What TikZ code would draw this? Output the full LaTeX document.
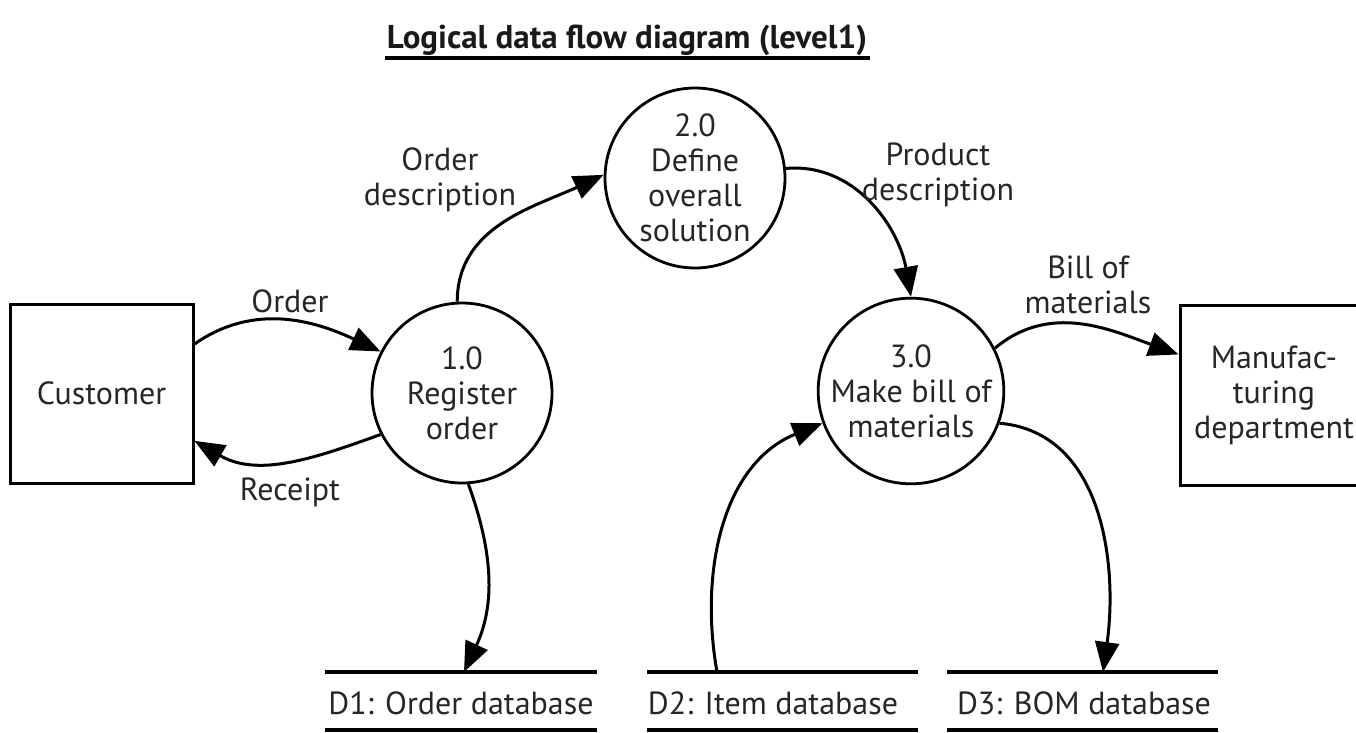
\documentclass[tikz,border=0pt]{standalone}
\usepackage{fontspec}
\setmainfont{PT Sans}
\usetikzlibrary{arrows.meta}
\begin{document}
\begin{tikzpicture}[x=0.5pt,y=-0.5pt,
  txt/.style={font=\fontsize{16}{17.5}\selectfont, text=black!85, align=center},
  proc/.style={circle, draw, line width=1.4pt, minimum size=90pt, inner sep=0pt, txt},
  ext/.style={rectangle, draw, line width=1.5pt, inner sep=0pt, txt},
  flow/.style={line width=1.5pt, -{Triangle[length=15pt,width=12pt]}},
  store/.style={line width=1.7pt},
  lbl/.style={txt, inner sep=0pt}]
\useasboundingbox (0,0) rectangle (1356,733);

% title
\node[font=\bfseries\fontsize{16.5}{19}\selectfont, text=black!90] (title) at (627,40) {Logical data flow diagram (level1)};
\draw[line width=1.6pt] (385,58) -- (870,58);

% external entities
\node[ext, minimum width=91.5pt, minimum height=89.5pt] (cust) at (101.5,393.5) {Customer};
\node[ext, minimum width=94pt, minimum height=90pt] (mfg) at (1274,395) {Manufac-\\turing\\department};

% processes
\node[proc] (p1) at (462,393) {1.0\\Register\\order};
\node[proc] (p2) at (695,178) {2.0\\Define\\overall\\solution};
\node[proc] (p3) at (911,391) {3.0\\Make bill of\\materials};

% data stores
\draw[store] (325,672) -- (597,672);
\draw[store] (325,730) -- (597,730);
\draw[store] (647,672) -- (918,672);
\draw[store] (647,730) -- (918,730);
\draw[store] (947,672) -- (1218,672);
\draw[store] (947,730) -- (1218,730);
\node[lbl] (d1) at (461,703) {D1: Order database};
\node[lbl] (d2) at (773,703) {D2: Item database};
\node[lbl] (d3) at (1084,703) {D3: BOM database};
\coordinate (d1in) at (464,672);
\coordinate (d2out) at (717,672);
\coordinate (d3in) at (1103,672);

% data flows
\draw[flow] (cust.28) to[out=35,in=155] (p1.153);
\draw[flow] (p1.207) to[out=200,in=-30] (cust.-27);
\draw[flow] (p1.93) to[out=90,in=205] (p2.178);
\draw[flow] (p2.6) to[out=5,in=100] (p3.90);
\draw[flow] (p3.27) to[out=40,in=160] (mfg.157);
\draw[flow] (p1.-86) to[out=-70,in=65] (d1in);
\draw[flow] (d2out) to[out=100,in=202] (p3.200);
\draw[flow] (p3.-20) to[out=-5,in=82] (d3in);

% flow labels
\node[lbl] (lorder) at (290,301) {Order};
\node[lbl] (lreceipt) at (290,492) {Receipt};
\node[lbl] (lodesc) at (440,180) {Order\\description};
\node[lbl] (lpdesc) at (938,175) {Product\\description};
\node[lbl] (lbom) at (1088,285) {Bill of\\materials};
\end{tikzpicture}
\end{document}
